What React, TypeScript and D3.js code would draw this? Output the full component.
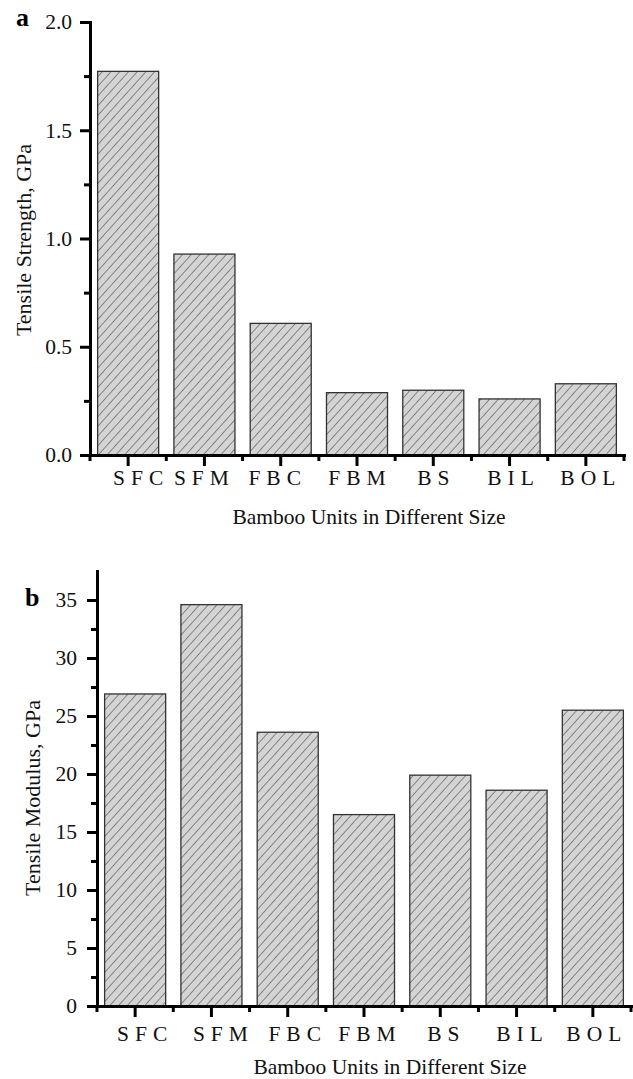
import React, { useEffect, useRef } from 'react';
import * as d3 from 'd3';

// bamboo unit types (same for both panels)
const categories = ['SFC', 'SFM', 'FBC', 'FBM', 'BS', 'BIL', 'BOL'];

// panel a: tensile strength, GPa
const strengthValues = [1.772, 0.928, 0.608, 0.288, 0.299, 0.259, 0.329];
const strengthTicks = [0, 0.5, 1.0, 1.5, 2.0];
const strengthMinor = [0.25, 0.75, 1.25, 1.75];

// panel b: tensile modulus, GPa
const modulusValues = [26.9, 34.6, 23.6, 16.5, 19.9, 18.6, 25.5];
const modulusTicks = [0, 5, 10, 15, 20, 25, 30, 35];
const modulusMinor = [2.5, 7.5, 12.5, 17.5, 22.5, 27.5, 32.5];

const FONT = "'Liberation Serif', 'Times New Roman', serif";

function drawPanel(svg, cfg) {
  const g = svg.append('g');

  const y = d3.scaleLinear().domain([0, cfg.yMax]).range([cfg.bottom, cfg.top]);
  const x = d3
    .scaleBand()
    .domain(categories)
    .range([cfg.left, cfg.right])
    .paddingInner(0.2)
    .paddingOuter(0.1);

  // bars
  g.selectAll('rect.bar')
    .data(cfg.values)
    .enter()
    .append('rect')
    .attr('class', 'bar')
    .attr('x', (d, i) => x(categories[i]))
    .attr('y', (d) => y(d))
    .attr('width', x.bandwidth())
    .attr('height', (d) => y(0) - y(d))
    .attr('fill', 'url(#hatch)')
    .attr('stroke', '#333')
    .attr('stroke-width', 1.3);

  // y axis, major
  const yAxis = g
    .append('g')
    .attr('transform', `translate(${cfg.left},0)`)
    .call(
      d3
        .axisLeft(y)
        .tickValues(cfg.ticks)
        .tickSize(10)
        .tickSizeOuter(0)
        .tickPadding(cfg.tickPad)
        .tickFormat(cfg.fmt)
    );
  yAxis.select('.domain').attr('stroke-width', 3).attr('stroke-linecap', 'square');
  yAxis.selectAll('.tick line').attr('stroke-width', 3);
  yAxis
    .selectAll('.tick text')
    .attr('font-family', FONT)
    .attr('font-size', cfg.fontSize)
    .attr('fill', '#111');

  // y axis, minor
  const yMinor = g
    .append('g')
    .attr('transform', `translate(${cfg.left},0)`)
    .call(d3.axisLeft(y).tickValues(cfg.minor).tickSize(6).tickFormat(() => ''));
  yMinor.select('.domain').remove();
  yMinor.selectAll('.tick line').attr('stroke-width', 3);

  // x axis: long ticks at bar centres, short ones at band edges
  const xAxis = g
    .append('g')
    .attr('transform', `translate(0,${cfg.bottom})`)
    .call(d3.axisBottom(x).tickSize(11).tickSizeOuter(0).tickFormat(() => ''));
  xAxis.select('.domain').attr('stroke-width', 3).attr('stroke-linecap', 'square');
  xAxis.selectAll('.tick line').attr('stroke-width', 3);

  const edges = d3.range(categories.length + 1).map((i) => cfg.left + i * x.step());
  g.selectAll('line.minorx')
    .data(edges)
    .enter()
    .append('line')
    .attr('x1', (d) => d)
    .attr('x2', (d) => d)
    .attr('y1', cfg.bottom)
    .attr('y2', cfg.bottom + 6)
    .attr('stroke', '#000')
    .attr('stroke-width', 3);

  // category labels, spaced out like the original
  g.selectAll('text.cat')
    .data(categories)
    .enter()
    .append('text')
    .attr('x', (d, i) => x(d) + x.bandwidth() / 2 + 3 + cfg.nudge[i])
    .attr('y', cfg.catBaseline)
    .attr('text-anchor', 'middle')
    .attr('font-family', FONT)
    .attr('font-size', cfg.fontSize)
    .attr('letter-spacing', 6)
    .attr('fill', '#111')
    .text((d) => d);

  // axis titles
  g.append('text')
    .attr('x', cfg.titleX)
    .attr('y', cfg.titleY)
    .attr('text-anchor', 'middle')
    .attr('font-family', FONT)
    .attr('font-size', cfg.fontSize)
    .attr('fill', '#111')
    .text('Bamboo Units in Different Size');

  g.append('text')
    .attr('transform', `translate(${cfg.yLabelX},${cfg.yLabelY}) rotate(-90)`)
    .attr('text-anchor', 'middle')
    .attr('font-family', FONT)
    .attr('font-size', 22)
    .attr('fill', '#111')
    .text(cfg.yLabel);

  // panel letter
  g.append('text')
    .attr('x', cfg.letterX)
    .attr('y', cfg.letterY)
    .attr('font-family', FONT)
    .attr('font-size', 26)
    .attr('font-weight', 'bold')
    .text(cfg.letter);
}

export default function App() {
  const ref = useRef(null);

  useEffect(() => {
    const svg = d3.select(ref.current);
    svg.selectAll('*').remove();

    const defs = svg.append('defs');
    const pat = defs
      .append('pattern')
      .attr('id', 'hatch')
      .attr('patternUnits', 'userSpaceOnUse')
      .attr('width', 6.5)
      .attr('height', 6.5)
      .attr('patternTransform', 'rotate(42)');
    pat.append('rect').attr('width', 6.5).attr('height', 6.5).attr('fill', '#d4d4d4');
    pat
      .append('line')
      .attr('x1', 0)
      .attr('y1', 0)
      .attr('x2', 0)
      .attr('y2', 6.5)
      .attr('stroke', '#222')
      .attr('stroke-width', 0.9);

    drawPanel(svg, {
      values: strengthValues,
      ticks: strengthTicks,
      minor: strengthMinor,
      yMax: 2.0,
      fmt: d3.format('.1f'),
      left: 90,
      right: 624,
      top: 22,
      bottom: 455,
      tickPad: 8,
      fontSize: 21.5,
      catBaseline: 485,
      nudge: [10, -3, -6, 0, 0, 1, 2],
      titleX: 369,
      titleY: 524,
      yLabel: 'Tensile Strength, GPa',
      yLabelX: 31,
      yLabelY: 240,
      letter: 'a',
      letterX: 16,
      letterY: 26,
    });

    drawPanel(svg, {
      values: modulusValues,
      ticks: modulusTicks,
      minor: modulusMinor,
      yMax: 37.5,
      fmt: d3.format('d'),
      left: 97,
      right: 631,
      top: 571,
      bottom: 1006,
      tickPad: 10,
      fontSize: 21.5,
      catBaseline: 1041,
      nudge: [7, 9, 7, 3, 3, 3, 1],
      titleX: 390,
      titleY: 1074,
      yLabel: 'Tensile Modulus, GPa',
      yLabelX: 40,
      yLabelY: 798,
      letter: 'b',
      letterX: 25,
      letterY: 606,
    });
  }, []);

  return (
    <svg
      ref={ref}
      width={633}
      height={1079}
      style={{ position: 'absolute', left: 0, top: 0, background: '#fff' }}
    />
  );
}
